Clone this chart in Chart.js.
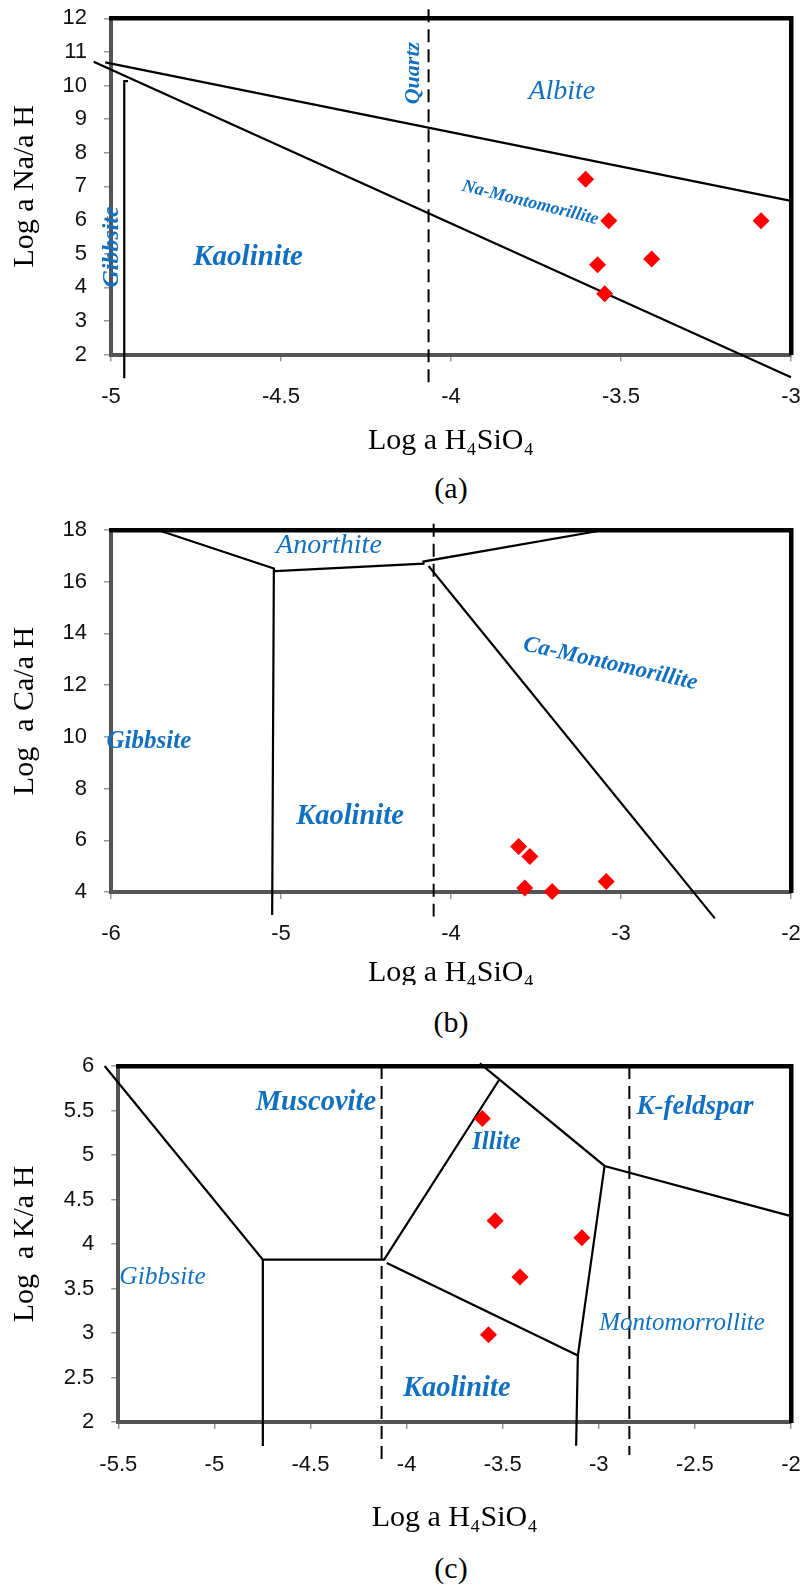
<!DOCTYPE html>
<html>
<head>
<meta charset="utf-8">
<title>Stability diagrams</title>
<script src="https://cdn.jsdelivr.net/npm/chart.js@4.4.0/dist/chart.umd.min.js"></script>
<style>
  html, body { margin: 0; padding: 0; background: #fff; }
  .page { position: relative; width: 809px; height: 1585px; overflow: hidden; }
  .panel { position: absolute; left: 0; width: 809px; }
  .caption {
    position: absolute; left: 111px; width: 680px; text-align: center;
    font: 30px "Liberation Serif", "Times New Roman", serif; line-height: 34px; color: #000;
  }
</style>
</head>
<body>
<div class="page">
  <div class="panel" id="panelA"><canvas id="chartA"></canvas></div>
  <div class="caption" style="top:471px">(a)</div>
  <div class="panel" id="panelB"><canvas id="chartB"></canvas></div>
  <div class="caption" style="top:1005px">(b)</div>
  <div class="panel" id="panelC"><canvas id="chartC"></canvas></div>
  <div class="caption" style="top:1551px">(c)</div>
</div>
<script>
// --- Sample points: x = Log a H4SiO4, y = log activity ratio ---
const naSilica = [-3.604, -3.536, -3.088, -3.569, -3.410, -3.548];
const naRatio  = [7.21, 5.98, 5.98, 4.67, 4.84, 3.81];
const caSilica = [-3.602, -3.536, -3.566, -3.405, -3.087];
const caRatio  = [5.76, 5.37, 4.15, 4.02, 4.41];
const kSilica  = [-3.606, -3.539, -3.088, -3.410, -3.574];
const kRatio   = [5.41, 4.26, 4.07, 3.63, 2.98];

// --- Stability field boundaries, [x, y] vertices ---
const naAlbiteLine    = [[-5.017, 10.69], [-3.0, 6.57]];
const naKaoliniteLine = [[-5.051, 10.71], [-3.0, 1.32]];
const naGibbsiteLine  = [[-4.95, 10.13], [-4.961, 10.13], [-4.961, 1.29]];
const naQuartzLine    = [[-4.066, 12.27], [-4.066, 1.09]];

const caGibbsiteLine  = [[-5.725, 18.0], [-5.042, 16.51], [-5.052, 3.11]];
const caAnorthiteLine = [[-5.042, 16.45], [-5.033, 16.41], [-4.162, 16.70], [-4.162, 16.78], [-3.100, 18.0]];
const caMontLine      = [[-4.132, 16.61], [-2.448, 2.98]];
const caQuartzLine    = [[-4.102, 18.24], [-4.102, 3.05]];

const kGibbsiteLine   = [[-5.571, 6.0], [-4.748, 3.825], [-4.117, 3.825], [-3.520, 5.84]];
const kGibbsiteFoot   = [[-4.748, 3.825], [-4.748, 1.73]];
const kIlliteLine     = [[-3.619, 6.03], [-2.970, 4.877], [-2.0, 4.313]];
const kMontLine       = [[-2.970, 4.877], [-3.109, 2.746], [-3.118, 1.734]];
const kKaoliniteLine  = [[-4.103, 3.786], [-3.109, 2.746]];
const kQuartzLine     = [[-4.130, 6.0], [-4.130, 1.575]];
const kFeldsparLine   = [[-2.841, 6.0], [-2.841, 1.63]];

// --- Tick values ---
const naTicksX = [-5, -4.5, -4, -3.5, -3];
const naTicksY = [2, 3, 4, 5, 6, 7, 8, 9, 10, 11, 12];
const caTicksX = [-6, -5, -4, -3, -2];
const caTicksY = [4, 6, 8, 10, 12, 14, 16, 18];
const kTicksX  = [-5.5, -5, -4.5, -4, -3.5, -3, -2.5, -2];
const kTicksY  = [2, 2.5, 3, 3.5, 4, 4.5, 5, 5.5, 6];

// --- Field names written inside the diagrams ---
const naFields = [
  { text: 'Quartz', x: -4.111, y: 10.37, rot: -90, size: 22, bold: true },
  { text: 'Albite', x: -3.674, y: 9.83, rot: 0, size: 28, bold: false },
  { text: 'Na-Montomorillite', x: -3.767, y: 6.51, rot: 14, size: 18, bold: true },
  { text: 'Kaolinite', x: -4.597, y: 4.89, rot: 0, size: 29, bold: true },
  { text: 'Gibbsite', x: -4.999, y: 5.20, rot: -90, size: 24, bold: true }
];
const caFields = [
  { text: 'Anorthite', x: -4.718, y: 17.39, rot: 0, size: 28, bold: false },
  { text: 'Ca-Montomorillite', x: -3.063, y: 12.82, rot: 12.8, size: 23, bold: true },
  { text: 'Gibbsite', x: -5.777, y: 9.83, rot: 0, size: 25, bold: true },
  { text: 'Kaolinite', x: -4.594, y: 6.92, rot: 0, size: 28.5, bold: true }
];
const kFields = [
  { text: 'Muscovite', x: -4.472, y: 5.59, rot: 0, size: 28.5, bold: true },
  { text: 'K-feldspar', x: -2.499, y: 5.543, rot: 0, size: 27, bold: true },
  { text: 'Illite', x: -3.533, y: 5.135, rot: 0, size: 25, bold: true },
  { text: 'Gibbsite', x: -5.27, y: 3.63, rot: 0, size: 25.5, bold: false },
  { text: 'Montomorrollite', x: -2.567, y: 3.108, rot: 0, size: 25, bold: false },
  { text: 'Kaolinite', x: -3.739, y: 2.378, rot: 0, size: 28.5, bold: true }
];

// --- Helpers ---
const SERIF = '"Liberation Serif", "Times New Roman", serif';
const SANS = '"Liberation Sans", Arial, sans-serif';
const FIELD_BLUE = '#1170c0';
const TICK_SIZE = 22;
const toPoints = (xs, ys) => xs.map((x, i) => ({ x: x, y: ys[i] }));
const toXY = pairs => pairs.map(p => ({ x: p[0], y: p[1] }));

const boundary = (pairs, dashed) => ({
    type: 'line',
    data: toXY(pairs),
    borderColor: '#000',
    borderWidth: dashed ? 2 : 2.2,
    borderDash: dashed ? [13, 7] : [],
    pointRadius: 0,
    fill: false,
    tension: 0,
    clip: false,
    order: 2
});

const samples = (xs, ys) => ({
    type: 'scatter',
    data: toPoints(xs, ys),
    pointStyle: 'rectRot',
    pointRadius: 8.5,
    pointBackgroundColor: '#ff0000',
    pointBorderColor: '#ff0000',
    pointBorderWidth: 0,
    showLine: false,
    clip: false,
    order: 1
});

// draws the italic blue field names at data coordinates
const fieldNamesPlugin = {
    id: 'fieldNames',
    afterDatasetsDraw(chart, args, opts) {
        const ctx = chart.ctx;
        const xs = chart.scales.x, ys = chart.scales.y;
        (opts.items || []).forEach(f => {
            ctx.save();
            ctx.translate(xs.getPixelForValue(f.x), ys.getPixelForValue(f.y));
            ctx.rotate(f.rot * Math.PI / 180);
            ctx.font = `italic ${f.bold ? 'bold ' : ''}${f.size}px ${SERIF}`;
            ctx.fillStyle = FIELD_BLUE;
            ctx.textAlign = 'center';
            ctx.textBaseline = 'middle';
            ctx.fillText(f.text, 0, 0);
            ctx.restore();
        });
    }
};

// the axes should not push the plot area around: sizes are fixed by hand
const fixBox = (w, h) => s => {
    if (w !== null) s.width = w;
    if (h !== null) s.height = h;
    s.paddingTop = s.paddingBottom = s.paddingLeft = s.paddingRight = 0;
};

// geometry is given in page pixels so every panel lines up with the reference
function makeDiagram(canvasId, panelId, g, d) {
    const panel = document.getElementById(panelId);
    panel.style.top = g.top + 'px';
    panel.style.height = g.height + 'px';
    const axisH = g.top + g.height - g.plotBottom;
    const titleLH = 30 * 1.2;
    const titlePadBottom = g.top + g.height - titleLH / 2 - g.titleCenter;
    const tickFmt = v => String(v);

    return new Chart(document.getElementById(canvasId), {
        data: { datasets: d.datasets },
        options: {
            responsive: true,
            maintainAspectRatio: false,
            animation: false,
            events: [],
            layout: { padding: { top: g.plotTop - g.top, right: 809 - g.plotRight, bottom: 0, left: 0 } },
            plugins: {
                legend: { display: false },
                tooltip: { enabled: false },
                fieldNames: { items: d.fields }
            },
            scales: {
                x: {
                    type: 'linear', position: 'bottom', min: d.ticksX[0], max: d.ticksX[d.ticksX.length - 1],
                    afterBuildTicks: s => { s.ticks = d.ticksX.map(v => ({ value: v })); },
                    afterFit: fixBox(null, axisH),
                    grid: { drawOnChartArea: false, drawTicks: true, tickLength: 7, color: '#9a9a9a', lineWidth: 1.5 },
                    border: { display: true, color: '#555', width: 4 },
                    ticks: {
                        color: '#111', padding: g.tickGap - 7 - TICK_SIZE * 0.6, maxRotation: 0,
                        callback: tickFmt, font: { family: SANS, size: TICK_SIZE }
                    },
                    title: {
                        display: true, text: 'Log a H₄SiO₄', color: '#000',
                        font: { family: SERIF, size: 30, lineHeight: 1.2 },
                        padding: { top: 0, bottom: titlePadBottom }
                    }
                },
                y: {
                    type: 'linear', position: 'left', min: d.ticksY[0], max: d.ticksY[d.ticksY.length - 1],
                    afterBuildTicks: s => { s.ticks = d.ticksY.map(v => ({ value: v })); },
                    afterFit: fixBox(g.plotLeft, null),
                    grid: { drawOnChartArea: false, drawTicks: true, tickLength: 7, color: '#9a9a9a', lineWidth: 1.5 },
                    border: { display: true, color: '#555', width: 4 },
                    ticks: { color: '#111', padding: 17, callback: tickFmt, font: { family: SANS, size: TICK_SIZE } },
                    title: {
                        display: true, text: d.yTitle, color: '#000',
                        font: { family: SERIF, size: 30, lineHeight: 1.2 },
                        padding: { top: 7, bottom: 0 }
                    }
                },
                frameTop: {
                    type: 'linear', position: 'top', display: true,
                    afterFit: fixBox(null, 0),
                    grid: { display: false, drawTicks: false },
                    ticks: { display: false },
                    border: { display: true, color: '#000', width: 4.5 }
                },
                frameRight: {
                    type: 'linear', position: 'right', display: true,
                    afterFit: fixBox(0, null),
                    grid: { display: false, drawTicks: false },
                    ticks: { display: false },
                    border: { display: true, color: '#000', width: 4.5 }
                }
            }
        },
        plugins: [fieldNamesPlugin]
    });
}

// --- Panel (a): Na system ---
makeDiagram('chartA', 'panelA',
    { top: 0, height: 470, plotTop: 18.3, plotBottom: 354.5, plotLeft: 111, plotRight: 791, tickGap: 42, titleCenter: 441 },
    {
        yTitle: 'Log a Na/a H', ticksX: naTicksX, ticksY: naTicksY, fields: naFields,
        datasets: [
            boundary(naAlbiteLine), boundary(naKaoliniteLine), boundary(naGibbsiteLine),
            boundary(naQuartzLine, true), samples(naSilica, naRatio)
        ]
    });

// --- Panel (b): Ca system ---
makeDiagram('chartB', 'panelB',
    { top: 505, height: 480, plotTop: 530, plotBottom: 892, plotLeft: 111, plotRight: 791, tickGap: 42, titleCenter: 973 },
    {
        yTitle: 'Log  a Ca/a H', ticksX: caTicksX, ticksY: caTicksY, fields: caFields,
        datasets: [
            boundary(caGibbsiteLine), boundary(caAnorthiteLine), boundary(caMontLine),
            boundary(caQuartzLine, true), samples(caSilica, caRatio)
        ]
    });

// --- Panel (c): K system ---
makeDiagram('chartC', 'panelC',
    { top: 1040, height: 500, plotTop: 1066, plotBottom: 1422, plotLeft: 118.3, plotRight: 791, tickGap: 43, titleCenter: 1518 },
    {
        yTitle: 'Log  a K/a H', ticksX: kTicksX, ticksY: kTicksY, fields: kFields,
        datasets: [
            boundary(kGibbsiteLine), boundary(kGibbsiteFoot), boundary(kIlliteLine), boundary(kMontLine),
            boundary(kKaoliniteLine), boundary(kQuartzLine, true), boundary(kFeldsparLine, true),
            samples(kSilica, kRatio)
        ]
    });
</script>
</body>
</html>
